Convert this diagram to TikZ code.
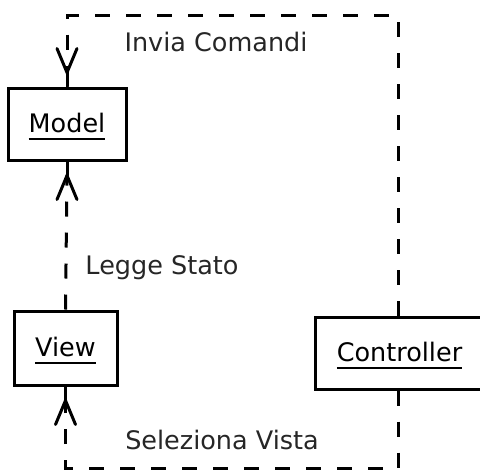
\documentclass[tikz,border=0pt]{standalone}
\usepackage{fontspec}
\setmainfont{DejaVu Sans}
\newlength\ulwidth
\newcommand\ulname[1]{\settowidth\ulwidth{#1}#1\llap{\rule[-8pt]{\ulwidth}{1.6pt}}}
\begin{document}
\begin{tikzpicture}[x=1pt,y=-1pt,
  box/.style={draw=black,line width=3pt,fill=white,inner sep=0pt,
    text height=24pt,text depth=8pt,font=\fontsize{25.5}{30}\selectfont},
  dep/.style={line width=3pt,dash pattern=on 15pt off 16pt},
  lbl/.style={font=\fontsize{25.5}{30}\selectfont,text=black!85,inner sep=0pt},
  barb/.style={line width=3pt,line cap=round,line join=miter}]
\useasboundingbox (0,0) rectangle (480,475);

% classes
\node[box,minimum width=118pt,minimum height=72pt] (model) at (67,124) {\ulname{Model}};
\node[box,minimum width=103pt,minimum height=74pt] (view) at (65.5,348) {\ulname{View}};
\node[box,minimum width=169pt,minimum height=72pt] (ctrl) at (399.5,353) {\ulname{Controller}};

% corners of the routed connectors
\coordinate (topR) at (398,15);
\coordinate (topL) at (model.north |- 0,15);
\coordinate (botR) at (398,468);
\coordinate (botL) at (view.south |- 0,468);

% Controller -> Model
\draw[dep] (ctrl.north -| topR) -- (topR) -- (topL) -- ([yshift=14pt]model.north);
\draw[barb] (model.north) -- ++(0,-14) coordinate (tipA);
\draw[barb] ([xshift=-10pt,yshift=24pt]tipA) -- (tipA) -- ([xshift=10pt,yshift=24pt]tipA);
\node[lbl] (lInvia) at (216,42) {Invia Comandi};

% View -> Model
\draw[dep] (view.north) -- ([yshift=-14pt]model.south);
\draw[barb] (model.south) -- ++(0,14) coordinate (tipB);
\draw[barb] ([xshift=-10pt,yshift=-24pt]tipB) -- (tipB) -- ([xshift=10pt,yshift=-24pt]tipB);
\node[lbl] (lLegge) at (162,268) {Legge Stato};

% Controller -> View
\draw[dep] (ctrl.south -| botR) -- (botR) -- (botL) -- ([yshift=-14pt]view.south);
\draw[barb] (view.south) -- ++(0,14) coordinate (tipC);
\draw[barb] ([xshift=-10pt,yshift=-24pt]tipC) -- (tipC) -- ([xshift=10pt,yshift=-24pt]tipC);
\node[lbl] (lSel) at (222,440) {Seleziona Vista};
\end{tikzpicture}
\end{document}
